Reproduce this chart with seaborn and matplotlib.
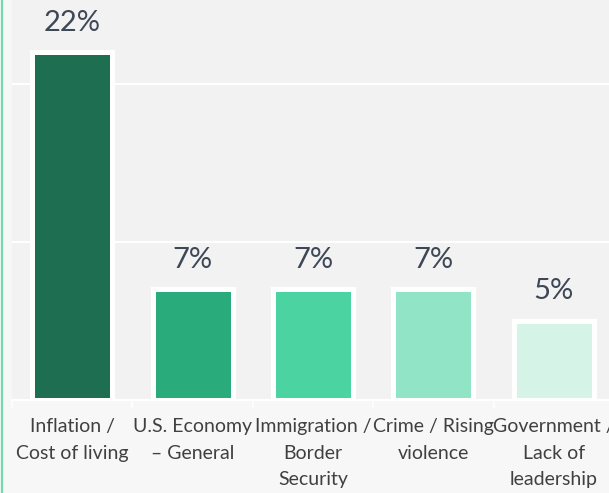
import matplotlib
matplotlib.use("Agg")
import matplotlib.pyplot as plt
import seaborn as sns
import pandas as pd
from matplotlib.lines import Line2D

# data
categories = [
    "Inflation /\nCost of living",
    "U.S. Economy\n\u2013 General",
    "Immigration /\nBorder\nSecurity",
    "Crime / Rising\nviolence",
    "Government /\nLack of\nleadership",
]
values = [22, 7, 7, 7, 5]
bar_colors = ["#1e6e52", "#2aab7c", "#4cd3a2", "#92e4c6", "#d6f3e7"]

df = pd.DataFrame({"issue": categories, "pct": values})

sns.set_theme(style="white")
plt.rcParams["font.family"] = ["Lato", "DejaVu Sans"]

fig = plt.figure(figsize=(6.09, 4.93), dpi=100, facecolor="#f7f7f7")
# plot area runs past the right edge, as in the cropped original
ax = fig.add_axes([12 / 609, 93 / 493, 602 / 609, 400 / 493])
ax.set_facecolor("#f2f2f2")

sns.barplot(data=df, x="issue", y="pct", hue="issue", palette=bar_colors,
            saturation=1, legend=False, width=0.665, edgecolor="white",
            linewidth=3.6, ax=ax, zorder=3)

ax.set_ylim(0, 400 / 15.8)
ax.set_xlim(-0.5, 4.5)
ax.set_yticks([10, 20])
ax.yaxis.grid(True, color="white", linewidth=1.5, zorder=0)
ax.tick_params(axis="y", left=False, labelleft=False)
ax.set_xlabel("")
ax.set_ylabel("")

# category separators on the x axis
ax.set_xticks([i - 0.5 for i in range(len(categories) + 1)], minor=True)
ax.tick_params(axis="x", which="minor", direction="out", length=6,
               width=1.2, color="white", bottom=True)
ax.tick_params(axis="x", which="major", length=0, pad=13,
               labelsize=14, labelcolor="#404040")
for lab in ax.get_xticklabels():
    lab.set_linespacing(1.68)

for s in ["top", "right", "left"]:
    ax.spines[s].set_visible(False)
ax.spines["bottom"].set_color("white")
ax.spines["bottom"].set_linewidth(1.5)

for cont in ax.containers:
    ax.bar_label(cont, labels=[f"{v:.0f}%" for v in cont.datavalues],
                 padding=12, fontsize=21, color="#3d4756")

# thin green rule on the far left
fig.add_artist(Line2D([0.0025, 0.0025], [0, 1], transform=fig.transFigure,
                      color="#6fdcb0", linewidth=1.6))

fig.savefig("out.png", dpi=100, facecolor=fig.get_facecolor())
